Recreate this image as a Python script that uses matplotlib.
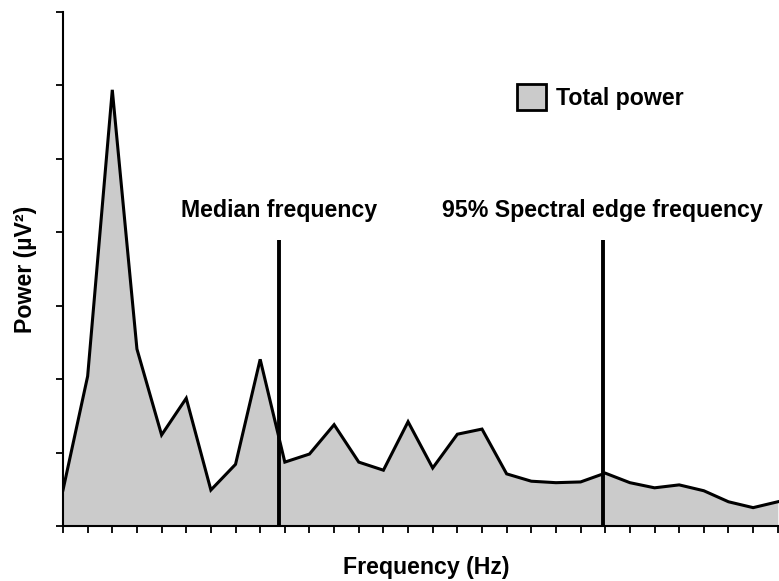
import matplotlib
matplotlib.use('Agg')
import matplotlib.pyplot as plt
from matplotlib.patches import Patch

plt.rcParams['font.family'] = ['Liberation Sans', 'DejaVu Sans']
plt.rcParams['font.weight'] = 'bold'

# Power spectrum (one bin per x tick)
bins = list(range(30))
power = [0.49, 2.04, 5.94, 2.41, 1.24, 1.74, 0.49, 0.84, 2.27, 0.87,
         0.98, 1.38, 0.87, 0.76, 1.42, 0.79, 1.25, 1.32, 0.71, 0.61,
         0.59, 0.60, 0.72, 0.59, 0.52, 0.56, 0.48, 0.33, 0.25, 0.33]

# marker lines (bin position, height) and their labels
median_freq = 8.76
edge_freq = 21.9
marker_height = 3.9
median_label = 'Median frequency'
edge_label = '95% Spectral edge frequency'

fig = plt.figure(figsize=(7.79, 5.81), dpi=100)
ax = fig.add_axes([63 / 779, 55 / 581, 716 / 779, 514 / 581])

fill = '#cbcbcb'
ax.fill_between(bins, power, 0, color=fill, linewidth=0)
ax.plot(bins, power, color='black', linewidth=2.2, solid_joinstyle='miter')

ax.vlines([median_freq, edge_freq], 0, marker_height, color='black', linewidth=2.8)
ax.text(median_freq, 4.29, median_label, ha='center', va='center',
        fontsize=16.7, fontweight='bold')
ax.text(edge_freq, 4.29, edge_label, ha='center', va='center',
        fontsize=16.7, fontweight='bold')

ax.set_xlim(0, 29.05)
ax.set_ylim(0, 7)
ax.set_xticks(bins)
ax.set_yticks(range(8))
ax.set_xticklabels([])
ax.set_yticklabels([])
ax.tick_params(direction='out', length=5, width=1.3, color='black')
for side in ['top', 'right']:
    ax.spines[side].set_visible(False)
for side in ['left', 'bottom']:
    ax.spines[side].set_linewidth(1.5)

ax.set_xlabel('Frequency (Hz)', fontsize=16.7, fontweight='bold')
ax.xaxis.set_label_coords(0.508, -0.08)
ax.xaxis.label.set_va('center')
ax.set_ylabel('Power (\u00b5V\u00b2)', fontsize=16.7, fontweight='bold')
ax.yaxis.set_label_coords(-0.053, 0.5)
ax.yaxis.label.set_va('center')

handle = Patch(facecolor=fill, edgecolor='black', linewidth=2.0)
leg = ax.legend([handle], ['Total power'], loc='center left',
                bbox_to_anchor=(0.634, 0.835), frameon=False,
                fontsize=16.7, handlelength=1.25, handleheight=1.35,
                handletextpad=0.45, borderpad=0, borderaxespad=0)
for t in leg.get_texts():
    t.set_fontweight('bold')

fig.savefig('out.png', dpi=100)
